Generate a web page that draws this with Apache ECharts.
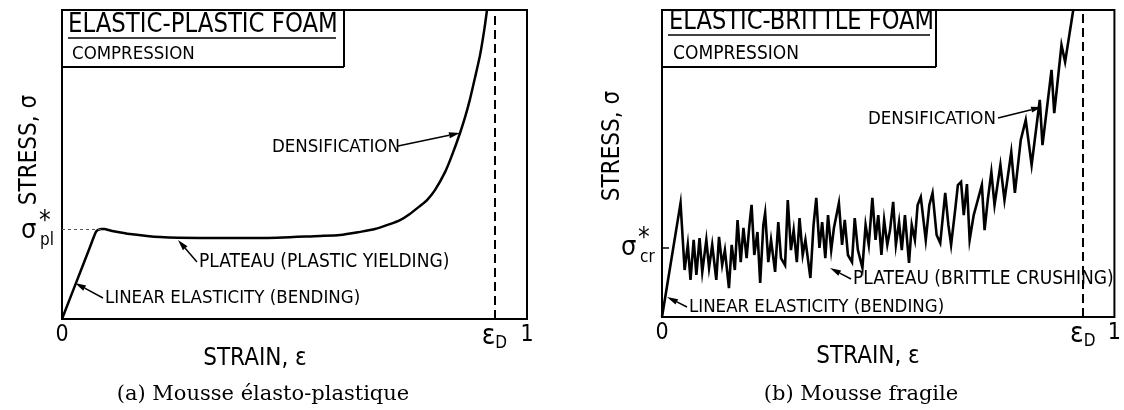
<!DOCTYPE html>
<html>
<head>
<meta charset="utf-8">
<script src="https://cdn.jsdelivr.net/npm/echarts@6/dist/echarts.min.js"></script>
<style>
  html, body { margin: 0; padding: 0; background: #fff; }
  #main { width: 1124px; height: 410px; }
</style>
</head>
<body>
<div id="main"></div>
<script>
// (a) elastic-plastic foam, strain vs normalised stress (0..100)
var plasticStrain = [0, 0.030, 0.060, 0.073, 0.079, 0.085, 0.092, 0.100, 0.108, 0.146, 0.211, 0.297, 0.426, 0.555,
  0.598, 0.641, 0.673, 0.705, 0.727, 0.748, 0.770, 0.785, 0.802, 0.824, 0.839, 0.856, 0.867, 0.877, 0.888, 0.899, 0.908, 0.914];
var plasticStress = [0, 11.6, 23.2, 28.2, 28.9, 29.1, 29.1, 28.8, 28.5, 27.5, 26.5, 26.2, 26.2, 26.9,
  27.2, 28.2, 29.1, 30.7, 32.0, 34.0, 36.6, 38.5, 41.7, 47.6, 53.1, 60.2, 65.4, 70.9, 78.0, 85.4, 93.5, 100];

// (b) elastic-brittle foam, jagged crushing curve
var brittleStrain = [0, 0.041, 0.050, 0.057, 0.063, 0.070, 0.076, 0.083, 0.089, 0.098, 0.104, 0.111, 0.120, 0.126, 0.133, 0.139,
  0.148, 0.154, 0.161, 0.167, 0.174, 0.180, 0.187, 0.193, 0.198, 0.204, 0.211, 0.217, 0.224, 0.228, 0.235, 0.241, 0.250,
  0.257, 0.263, 0.272, 0.278, 0.285, 0.291, 0.298, 0.304, 0.311, 0.317, 0.328, 0.335, 0.341, 0.348, 0.354, 0.361, 0.367,
  0.374, 0.380, 0.391, 0.398, 0.404, 0.411, 0.420, 0.426, 0.433, 0.443, 0.450, 0.457, 0.465, 0.472, 0.478, 0.485, 0.491,
  0.498, 0.504, 0.511, 0.517, 0.524, 0.530, 0.537, 0.546, 0.552, 0.559, 0.565, 0.572, 0.583, 0.591, 0.598, 0.607, 0.615,
  0.626, 0.633, 0.639, 0.648, 0.654, 0.661, 0.667, 0.674, 0.680, 0.689, 0.698, 0.707, 0.713, 0.720, 0.728, 0.735, 0.748,
  0.757, 0.772, 0.780, 0.793, 0.804, 0.817, 0.835, 0.841, 0.861, 0.867, 0.883, 0.891, 0.909];
var brittleStress = [0, 37.1, 15.3, 23.5, 12.1, 25.1, 13.7, 25.7, 14.7, 25.1, 16.0, 23.5, 12.1, 26.1, 16.9, 21.8,
  9.4, 23.5, 15.3, 31.6, 17.9, 29.0, 19.2, 29.6, 36.5, 20.2, 27.7, 11.1, 30.0, 33.9, 17.9, 25.1, 14.7,
  30.9, 19.2, 16.9, 38.1, 21.8, 28.3, 17.9, 32.2, 20.2, 25.1, 12.7, 30.0, 38.8, 22.5, 30.9, 19.2, 33.2,
  21.8, 29.0, 37.1, 23.5, 31.6, 20.2, 17.9, 32.2, 21.8, 16.0, 30.0, 23.5, 38.8, 25.1, 33.2, 20.2, 31.6,
  23.5, 28.3, 37.5, 23.5, 30.9, 21.8, 33.2, 17.6, 30.0, 25.1, 36.5, 39.1, 25.1, 36.5, 40.4, 26.7, 24.1,
  40.4, 30.0, 23.5, 34.9, 43.0, 44.0, 33.2, 43.3, 25.1, 33.2, 38.1, 43.0, 28.3, 38.1, 47.2, 36.5, 49.5,
  38.1, 53.7, 40.4, 57.7, 64.2, 49.5, 70.7, 56.0, 80.5, 66.4, 88.6, 83.1, 100];

var densStrain = [0.925, 0.933];      // epsilon_D for (a), (b)
var plateauStress = [29.1, 22.5];     // sigma*_pl, sigma*_cr
var xTickLabels = ['0', '1'];
var titles = ['ELASTIC-PLASTIC FOAM', 'ELASTIC-BRITTLE FOAM'];
var captions = ['(a) Mousse élasto-plastique', '(b) Mousse fragile'];

var SANS = "'DejaVu Sans Condensed', 'DejaVu Sans', sans-serif";
var SERIF = "'DejaVu Serif', 'Liberation Serif', serif";

function zip(xs, ys) {
  return xs.map(function (x, i) { return [x, ys[i]]; });
}

function xAxisFor(i) {
  return {
    type: 'value', gridIndex: i, min: 0, max: 1, interval: 1,
    axisLine: { show: false }, axisTick: { show: false }, splitLine: { show: false },
    axisLabel: {
      color: '#000', fontFamily: SANS, fontSize: 23, margin: 5,
      formatter: function (v) { return v === 0 ? xTickLabels[0] : xTickLabels[1]; }
    }
  };
}
function yAxisFor(i) {
  return {
    type: 'value', gridIndex: i, min: 0, max: 100,
    axisLine: { show: false }, axisTick: { show: false }, splitLine: { show: false },
    axisLabel: { show: false }
  };
}

function marks(i, plateauEnd) {
  return {
    silent: true, symbol: 'none', animation: false,
    data: [
      {
        xAxis: densStrain[i],
        lineStyle: { color: '#000', type: [9, 5], width: 2 },
        label: {
          show: true, position: 'start', distance: 2,
          formatter: '{e|\u03b5}{d|D}',
          rich: {
            e: { fontFamily: SANS, fontSize: 28, color: '#000' },
            d: { fontFamily: SANS, fontSize: 17, color: '#000', padding: [14, 0, 0, 0] }
          }
        }
      },
      [
        { coord: [0, plateauStress[i]], lineStyle: { color: '#555', type: [3, 3], width: 1 }, label: { show: false } },
        { coord: [plateauEnd, plateauStress[i]] }
      ]
    ]
  };
}

function txt(x, y, s, size, extra) {
  var el = { type: 'text', x: x, y: y, silent: true,
    style: { text: s, x: 0, y: 0, fill: '#000', font: size + 'px ' + SANS, textVerticalAlign: 'middle' } };
  if (extra) {
    for (var k in extra) {
      if (k === 'rotation' || k === 'scaleX' || k === 'scaleY') el[k] = extra[k];
      else el.style[k] = extra[k];
    }
  }
  return el;
}
function seg(x1, y1, x2, y2, w) {
  return { type: 'line', shape: { x1: x1, y1: y1, x2: x2, y2: y2 }, style: { stroke: '#000', lineWidth: w || 1.5 }, silent: true };
}
function arrow(tx, ty, fx, fy) {
  var dx = tx - fx, dy = ty - fy, L = Math.sqrt(dx * dx + dy * dy);
  var ux = dx / L, uy = dy / L, bx = tx - ux * 11, by = ty - uy * 11;
  return [
    seg(fx, fy, bx, by, 1.5),
    { type: 'polygon', shape: { points: [[tx, ty], [bx - uy * 3, by + ux * 3], [bx + uy * 3, by - ux * 3]] },
      style: { fill: '#000' }, silent: true }
  ];
}

var graphics = [];
function addAll(arr) { arr.forEach(function (g) { graphics.push(g); }); }

// title boxes
addAll([
  seg(62, 67, 344, 67, 2), seg(344, 10, 344, 67, 2),
  txt(68, 25, titles[0], 27, { scaleX: 0.94 }), seg(68, 38, 336, 38, 1.5),
  txt(72, 54, 'COMPRESSION', 18.5),
  seg(662, 67, 936, 67, 2), seg(936, 10, 936, 67, 2),
  txt(669, 22, titles[1], 27, { scaleX: 0.93 }), seg(668, 35, 930, 35, 1.5),
  txt(673, 54, 'COMPRESSION', 19)
]);

// axis titles (rotated, reading upward)
addAll([
  txt(30, 150, 'STRESS, \u03c3', 24, { textAlign: 'center', rotation: Math.PI / 2 }),
  txt(613, 146, 'STRESS, \u03c3', 24, { textAlign: 'center', rotation: Math.PI / 2 }),
  txt(255, 359, 'STRAIN, \u03b5', 24, { textAlign: 'center' }),
  txt(868, 357, 'STRAIN, \u03b5', 24, { textAlign: 'center' })
]);

// plateau stress labels
addAll([
  txt(21, 231, '\u03c3', 27), txt(39, 222, '*', 26), txt(40, 241, 'pl', 17),
  txt(621, 248, '\u03c3', 27), txt(638, 239, '*', 26), txt(640, 258, 'cr', 17),
  seg(662, 248, 669, 248, 1.5)
]);

// annotations (a)
addAll(arrow(75, 283, 103, 298));
addAll([txt(105, 298, 'LINEAR ELASTICITY (BENDING)', 18.5)]);
addAll(arrow(178, 240, 197, 262));
addAll([txt(199, 262, 'PLATEAU (PLASTIC YIELDING)', 19)]);
addAll(arrow(460, 133, 398, 146));
addAll([txt(272, 147, 'DENSIFICATION', 18.5)]);
// annotations (b)
addAll(arrow(667, 297, 687, 307));
addAll([txt(689, 307, 'LINEAR ELASTICITY (BENDING)', 18.5)]);
addAll(arrow(830, 268, 851, 279));
addAll([txt(853, 279, 'PLATEAU (BRITTLE CRUSHING)', 19)]);
addAll(arrow(1042, 107, 998, 118));
addAll([txt(868, 119, 'DENSIFICATION', 18.5)]);

// captions
addAll([
  txt(263, 395, captions[0], 21, { textAlign: 'center', font: '21px ' + SERIF }),
  txt(861, 395, captions[1], 21, { textAlign: 'center', font: '21px ' + SERIF })
]);

var option = {
  animation: false,
  backgroundColor: '#fff',
  grid: [
    { left: 62, top: 10, width: 465, height: 309, show: true, borderColor: '#000', borderWidth: 2 },
    { left: 662, top: 10, width: 459, height: 307, show: true, borderColor: '#000', borderWidth: 2 }
  ],
  xAxis: [xAxisFor(0), xAxisFor(1)],
  yAxis: [yAxisFor(0), yAxisFor(1)],
  series: [
    {
      type: 'line', xAxisIndex: 0, yAxisIndex: 0, data: zip(plasticStrain, plasticStress),
      showSymbol: false, smooth: 0.25,
      lineStyle: { color: '#000', width: 2.5 },
      markLine: marks(0, 0.09)
    },
    {
      type: 'line', xAxisIndex: 1, yAxisIndex: 1, data: zip(brittleStrain, brittleStress),
      showSymbol: false, lineStyle: { color: '#000', width: 2.6, join: 'miter' },
      markLine: marks(1, 0)
    }
  ],
  graphic: graphics
};

var myChart = echarts.init(document.getElementById('main'));
myChart.setOption(option);
</script>
</body>
</html>
